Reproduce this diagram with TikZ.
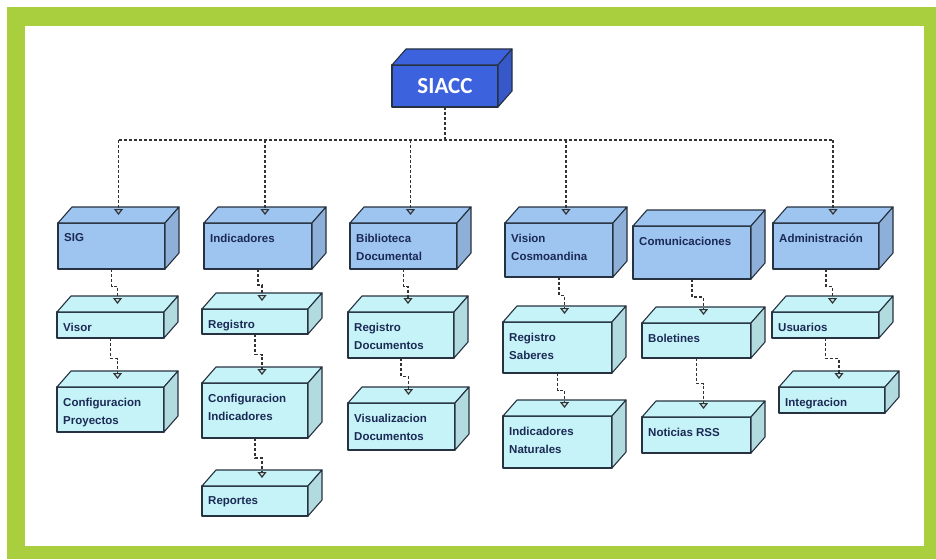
\documentclass[tikz,border=0pt]{standalone}
\usepackage{fontspec}
\usepackage{tikz}
\usetikzlibrary{arrows.meta,calc}
\setmainfont{Liberation Sans}
\newfontfamily\titlefont{Carlito}
\definecolor{frame}{HTML}{A9CF3F}
\definecolor{edge}{HTML}{26323F}
\definecolor{ink}{HTML}{1B2A55}
\definecolor{root}{HTML}{3D62DE}
\definecolor{modl}{HTML}{9EC4F0}
\definecolor{subm}{HTML}{C6F3F8}
\tikzset{
  face/.style={draw=edge, line width=1.1pt, line join=round},
  lbl/.style={anchor=north west, inner xsep=6pt, inner ysep=10.5pt, align=left, text=ink,
    font=\fontsize{11.5}{18}\selectfont\bfseries},
  bus/.style={draw=black!80, line width=1.4pt, dash pattern=on 3pt off 2pt},
  dep/.style={bus, -{Triangle[open, length=6pt, width=9pt, line width=1.2pt]}}
}
\newcommand{\faces}[2]{%
  \filldraw[face, fill=#2] (#1.north west) -- ([shift={(14,-16)}]#1.north west)
    -- ([shift={(14,-16)}]#1.north east) -- (#1.north east) -- cycle;
  \filldraw[face, fill=#2!90!black] (#1.north east) -- ([shift={(14,-16)}]#1.north east)
    -- ([shift={(14,-16)}]#1.south east) -- (#1.south east) -- cycle;
  \coordinate (#1-t) at ([shift={(7,-8)}]#1.north);}
\newcommand{\blk}[7]{%
  \node[face, fill=#2, anchor=north west, outer sep=0pt, inner sep=0pt,
    minimum width=#5pt, minimum height=#6pt, label={[lbl]north west:#7}] (#1) at (#3,#4) {};
  \faces{#1}{#2}}

\begin{document}
\begin{tikzpicture}[x=1pt, y=-1pt]
  \useasboundingbox (0,0) rectangle (936,559);
  \fill[frame] (7,7) rectangle (936,559);
  \fill[white] (25,26) rectangle (924,546);

  \node[face, fill=root, anchor=north west, outer sep=0pt, minimum width=106pt, minimum height=42pt,
    text=white, font=\titlefont\fontsize{23}{23}\selectfont\bfseries] (siacc) at (392,65) {SIACC};
  \faces{siacc}{root}

  \blk{sig}{modl}{58}{223}{107}{46}{SIG}
  \blk{ind}{modl}{204}{223}{108}{46}{Indicadores}
  \blk{bib}{modl}{350}{223}{107}{46}{Biblioteca\\Documental}
  \blk{vis}{modl}{505}{223}{108}{54}{Vision\\Cosmoandina}
  \blk{com}{modl}{633}{226}{118}{53}{Comunicaciones}
  \blk{adm}{modl}{773}{223}{106}{46}{Administración}

  \blk{visor}{subm}{57}{312}{107}{26}{Visor}
  \blk{confp}{subm}{57}{387}{107}{45}{Configuracion\\Proyectos}
  \blk{reg}{subm}{202}{309}{106}{25}{Registro}
  \blk{confi}{subm}{202}{383}{106}{55}{Configuracion\\Indicadores}
  \blk{rep}{subm}{202}{486}{106}{30}{Reportes}
  \blk{regd}{subm}{348}{312}{106}{46}{Registro\\Documentos}
  \blk{visd}{subm}{348}{403}{107}{47}{Visualizacion\\Documentos}
  \blk{regs}{subm}{503}{322}{109}{51}{Registro\\Saberes}
  \blk{indn}{subm}{503}{416}{109}{52}{Indicadores\\Naturales}
  \blk{bol}{subm}{642}{323}{109}{35}{Boletines}
  \blk{rss}{subm}{642}{417}{109}{36}{Noticias RSS}
  \blk{usu}{subm}{772}{312}{107}{26}{Usuarios}
  \blk{integ}{subm}{779}{387}{106}{26}{Integracion}

  \coordinate (trunk) at (0,140);
  \draw[bus] (siacc.south) -- (siacc.south |- trunk);
  \draw[bus] (sig-t |- trunk) -- (adm-t |- trunk);
  \foreach \n in {sig,ind,bib,vis,adm}
    \draw[dep] (\n-t |- trunk) -- (\n-t);
  \foreach \a/\b in {sig/visor, visor/confp, ind/reg, reg/confi, confi/rep, bib/regd, regd/visd,
      vis/regs, regs/indn, com/bol, bol/rss, adm/usu, usu/integ}
    \draw[dep] (\a.south) -- ($(\a.south)!.5!(\a.south |- \b-t)$) -| (\b-t);
\end{tikzpicture}
\end{document}
